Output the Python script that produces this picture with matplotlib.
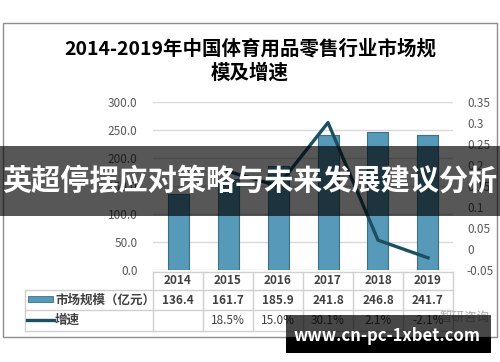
import numpy as np
import matplotlib.pyplot as plt
from matplotlib.patches import Rectangle
from matplotlib.lines import Line2D
from matplotlib.transforms import blended_transform_factory

plt.rcParams['font.family'] = ['Noto Sans CJK SC', 'DejaVu Sans']

years = ['2014', '2015', '2016', '2017', '2018', '2019']
market = [136.4, 161.7, 185.9, 241.8, 246.8, 241.7]
growth = [np.nan, 0.185, 0.150, 0.301, 0.021, -0.021]
growth_labels = ['', '18.5%', '15.0%', '30.1%', '2.1%', '-2.1%']
title = '2014-2019年中国体育用品零售行业市场规\n模及增速'
row_labels = ['市场规模（亿元）', '增速']
banner = '英超停摆应对策略与未来发展建议分析'
site = 'www.cn-pc-1xbet.com'

W, H = 500, 362
fig = plt.figure(figsize=(5, 3.62), dpi=100)
fig.patch.set_facecolor('white')

def fx(px):
    return px / W

def fy(py):
    return 1 - py / H

bar_col = '#5799b8'
line_col = '#1d4f63'
grid_col = '#d9d9d9'
text_col = '#404040'

# chart frame
fig.add_artist(Rectangle((fx(3), fy(337)), fx(494), 314 / H, transform=fig.transFigure,
                         fill=False, edgecolor='#8c8c8c', lw=1))

fig.text(0.5, fy(61), title, ha='center', va='center', fontsize=14,
         fontweight='bold', linespacing=1.3, color='black')

ax = fig.add_axes([fx(153), fy(270), fx(300), 168 / H])
x = np.arange(len(years))
ax.bar(x, market, width=0.42, color=bar_col, edgecolor='#3d6f87', lw=0.8, zorder=3)
ax.set_xlim(-0.5, len(years) - 0.5)
ax.set_ylim(0, 300)
ax.set_yticks(np.arange(0, 301, 50))
ax.set_yticklabels([f'{v:.1f}' for v in np.arange(0, 301, 50)])
ax.yaxis.grid(True, color=grid_col, lw=1, zorder=0)
ax.set_xticks([])
for s in ax.spines.values():
    s.set_visible(False)
ax.tick_params(axis='y', length=0, pad=11, labelsize=8.5, labelcolor='#595959')

ax2 = ax.twinx()
ax2.plot(x, growth, color=line_col, lw=2.4, zorder=4)
ax2.set_ylim(-0.05, 0.35)
ax2.set_yticks(np.arange(-0.05, 0.351, 0.05))
ax2.set_yticklabels(['-0.05', '0', '0.05', '0.1', '0.15', '0.2', '0.25', '0.3', '0.35'])
for s in ax2.spines.values():
    s.set_visible(False)
ax2.tick_params(axis='y', length=0, pad=10, labelsize=8.5, labelcolor='#595959')

# data table under the plot
tr = blended_transform_factory(ax.transData, fig.transFigure)
tl_col = '#d0d0d0'
rows_y = [272, 290, 310, 331]
fig.add_artist(Line2D([fx(153), fx(453)], [fy(rows_y[0])] * 2, transform=fig.transFigure, color=tl_col, lw=1))
for py in rows_y[1:]:
    fig.add_artist(Line2D([fx(25), fx(453)], [fy(py)] * 2, transform=fig.transFigure, color=tl_col, lw=1))
for i in range(len(years) + 1):
    fig.add_artist(Line2D([i - 0.5, i - 0.5], [fy(272), fy(331)], transform=tr, color=tl_col, lw=1))
fig.add_artist(Line2D([fx(25), fx(25)], [fy(290), fy(331)], transform=fig.transFigure, color=tl_col, lw=1))

for i in range(len(years)):
    fig.text(i, fy(281), years[i], transform=tr, ha='center', va='center',
             fontsize=8.5, fontweight='bold', color=text_col)
    fig.text(i, fy(300), f'{market[i]:.1f}', transform=tr, ha='center', va='center',
             fontsize=8.5, fontweight='bold', color=text_col)
    fig.text(i, fy(320), growth_labels[i], transform=tr, ha='center', va='center',
             fontsize=8.5, color=text_col)

fig.add_artist(Rectangle((fx(28), fy(302)), fx(25), 6 / H, transform=fig.transFigure,
                         facecolor=bar_col, edgecolor='#3d6f87', lw=0.6))
fig.add_artist(Line2D([fx(27), fx(54)], [fy(320)] * 2, transform=fig.transFigure, color=line_col, lw=2.4))
fig.text(fx(55), fy(300), row_labels[0], ha='left', va='center', fontsize=9, fontweight='bold', color=text_col)
fig.text(fx(55), fy(320), row_labels[1], ha='left', va='center', fontsize=9, fontweight='bold', color=text_col)

# faint watermark
fig.text(fx(440), fy(317), '智研咨询', ha='left', va='center', fontsize=9, color='#b0b0b0')

# overlay banner
fig.add_artist(Rectangle((0, fy(216)), 1, 70 / H, transform=fig.transFigure,
                         facecolor='black', alpha=0.66, lw=0, zorder=10))
fig.text(0.5, fy(181), banner, ha='center', va='center', fontsize=21,
         fontweight='bold', color='white', zorder=11)

# site box bottom right
fig.add_artist(Rectangle((fx(286), fy(337)), fx(205), 22 / H, transform=fig.transFigure,
                         facecolor='black', alpha=0.72, lw=0, zorder=10))
fig.add_artist(Rectangle((fx(286), fy(353)), fx(205), 16 / H, transform=fig.transFigure,
                         facecolor='black', lw=0, zorder=10))
fig.text(fx(387), fy(336), site, ha='center', va='center', fontsize=12,
         fontweight='bold', color='white', zorder=11)

fig.savefig('out.png', dpi=100)
